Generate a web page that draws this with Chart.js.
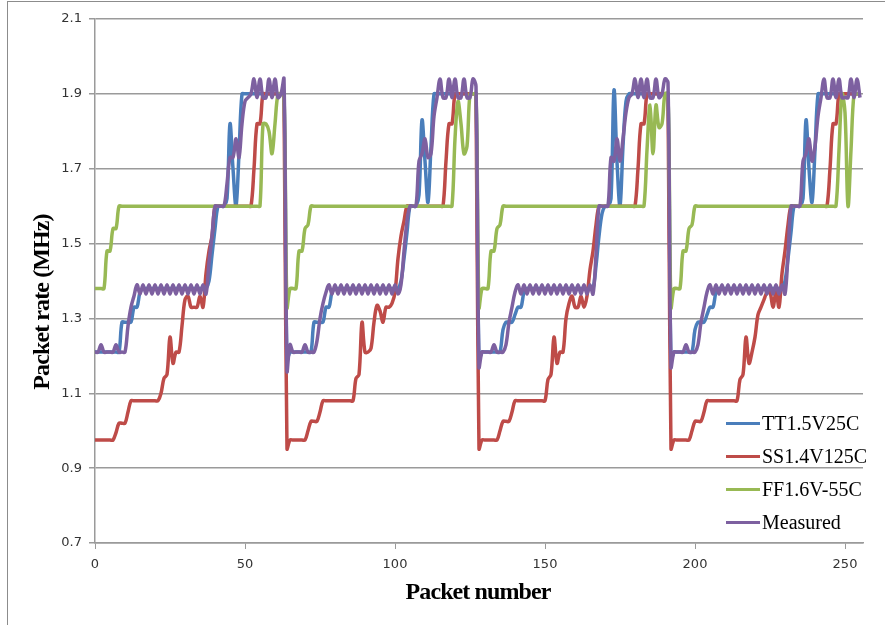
<!DOCTYPE html>
<html>
<head>
<meta charset="utf-8">
<script src="https://cdn.jsdelivr.net/npm/chart.js@4.4.1/dist/chart.umd.min.js"></script>
<style>
  html, body { margin: 0; padding: 0; background: #fff; }
  #wrap { position: relative; width: 885px; height: 625px; overflow: hidden; }
  #chart { position: absolute; left: 0; top: 0; }
  .frame { position: absolute; left: 7px; top: 1px; right: -2px; bottom: -2px;
           border-left: 1px solid #8c8c8c; border-top: 1px solid #8c8c8c; pointer-events: none; }
  .axis-title { position: absolute; font: bold 24px "Liberation Serif", "Times New Roman", serif;
                letter-spacing: -0.9px; color: #000; white-space: nowrap; text-align: center; }
  #xTitle { left: 328px; top: 579px; width: 300px; line-height: 24px; }
  #yTitle { left: -109px; top: 288px; width: 300px; line-height: 28px; transform: rotate(-90deg); }
  .legend-item { position: absolute; left: 726px; height: 24px; line-height: 24px;
                 font: 20px "Liberation Serif", "Times New Roman", serif; color: #000; white-space: nowrap; }
  .legend-item span.swatch { display: inline-block; width: 34px; height: 3px; vertical-align: middle;
                             margin-right: 2px; position: relative; top: -2px; }
</style>
</head>
<body>
<div id="wrap">
  <canvas id="chart" width="885" height="625"></canvas>
  <div class="frame"></div>
  <div id="yTitle" class="axis-title">Packet rate (MHz)</div>
  <div id="xTitle" class="axis-title">Packet number</div>
  <div id="legend"></div>
</div>
<script>
// packet rate (MHz) per packet, 4 periods of 64 packets, one row = 16 packets
const ttValues = [
  1.21,1.21,1.21,1.21,1.21,1.21,1.21,1.21,1.21,1.29,1.29,1.29,1.29,1.33,1.33,1.37,
  1.38,1.38,1.38,1.38,1.38,1.38,1.38,1.38,1.38,1.38,1.38,1.38,1.38,1.38,1.38,1.38,
  1.38,1.38,1.38,1.38,1.38,1.38,1.40,1.47,1.54,1.60,1.60,1.60,1.62,1.82,1.70,1.60,
  1.74,1.90,1.90,1.90,1.90,1.90,1.90,1.90,1.90,1.90,1.90,1.90,1.90,1.90,1.90,1.90,

  1.19,1.21,1.21,1.21,1.21,1.21,1.21,1.21,1.21,1.29,1.29,1.29,1.29,1.33,1.33,1.37,
  1.38,1.38,1.38,1.38,1.38,1.38,1.38,1.38,1.38,1.38,1.38,1.38,1.38,1.38,1.38,1.38,
  1.38,1.38,1.38,1.38,1.38,1.38,1.40,1.46,1.53,1.60,1.60,1.60,1.63,1.83,1.72,1.61,
  1.76,1.90,1.90,1.90,1.90,1.90,1.90,1.90,1.90,1.90,1.90,1.90,1.90,1.90,1.90,1.90,

  1.19,1.21,1.21,1.21,1.21,1.21,1.21,1.21,1.27,1.29,1.29,1.29,1.31,1.33,1.33,1.37,
  1.38,1.38,1.38,1.38,1.38,1.38,1.38,1.38,1.38,1.38,1.38,1.38,1.38,1.38,1.38,1.38,
  1.38,1.38,1.38,1.38,1.38,1.38,1.38,1.44,1.52,1.58,1.60,1.60,1.62,1.91,1.72,1.60,
  1.76,1.88,1.90,1.90,1.90,1.90,1.90,1.90,1.90,1.90,1.90,1.90,1.90,1.90,1.90,1.90,

  1.19,1.21,1.21,1.21,1.21,1.21,1.21,1.21,1.27,1.29,1.29,1.29,1.31,1.33,1.33,1.37,
  1.38,1.38,1.38,1.38,1.38,1.38,1.38,1.38,1.38,1.38,1.38,1.38,1.38,1.38,1.38,1.38,
  1.38,1.38,1.38,1.38,1.38,1.38,1.40,1.46,1.53,1.60,1.60,1.60,1.62,1.83,1.70,1.61,
  1.75,1.90,1.90,1.90,1.90,1.90,1.90,1.90,1.90,1.90,1.90,1.90,1.90,1.90,1.90,1.90
];

const ssValues = [
  0.975,0.975,0.975,0.975,0.975,0.975,0.975,0.995,1.02,1.02,1.02,1.05,1.08,1.08,1.08,1.08,
  1.08,1.08,1.08,1.08,1.08,1.08,1.10,1.14,1.15,1.25,1.18,1.21,1.21,1.28,1.35,1.36,
  1.33,1.33,1.33,1.36,1.33,1.42,1.48,1.52,1.60,1.60,1.60,1.60,1.60,1.60,1.60,1.60,
  1.60,1.60,1.60,1.60,1.60,1.70,1.82,1.82,1.90,1.90,1.90,1.90,1.90,1.90,1.90,1.90,

  0.952,0.975,0.975,0.975,0.975,0.975,0.975,1.00,1.025,1.025,1.025,1.05,1.08,1.08,1.08,1.08,
  1.08,1.08,1.08,1.08,1.08,1.08,1.08,1.14,1.15,1.29,1.21,1.21,1.22,1.29,1.335,1.32,
  1.29,1.33,1.33,1.34,1.37,1.46,1.52,1.56,1.60,1.60,1.60,1.60,1.60,1.60,1.60,1.60,
  1.60,1.60,1.60,1.60,1.60,1.72,1.82,1.82,1.90,1.90,1.90,1.90,1.90,1.90,1.90,1.90,

  0.952,0.975,0.975,0.975,0.975,0.975,0.975,1.00,1.025,1.025,1.025,1.05,1.08,1.08,1.08,1.08,
  1.08,1.08,1.08,1.08,1.08,1.08,1.08,1.137,1.15,1.25,1.18,1.21,1.21,1.30,1.34,1.36,
  1.33,1.33,1.36,1.33,1.36,1.43,1.48,1.55,1.60,1.60,1.60,1.60,1.60,1.60,1.60,1.60,
  1.60,1.60,1.60,1.60,1.60,1.70,1.82,1.82,1.90,1.90,1.90,1.90,1.90,1.90,1.90,1.90,

  0.952,0.975,0.975,0.975,0.975,0.975,0.975,1.00,1.025,1.025,1.025,1.05,1.08,1.08,1.08,1.08,
  1.08,1.08,1.08,1.08,1.08,1.08,1.08,1.137,1.15,1.25,1.18,1.21,1.25,1.31,1.33,1.35,
  1.37,1.37,1.33,1.37,1.33,1.42,1.48,1.55,1.60,1.60,1.60,1.60,1.60,1.60,1.60,1.60,
  1.60,1.60,1.60,1.60,1.60,1.70,1.82,1.82,1.90,1.90,1.90,1.90,1.90,1.90,1.90,1.90
];

const ffValues = [
  1.38,1.38,1.38,1.38,1.48,1.48,1.54,1.54,1.60,1.60,1.60,1.60,1.60,1.60,1.60,1.60,
  1.60,1.60,1.60,1.60,1.60,1.60,1.60,1.60,1.60,1.60,1.60,1.60,1.60,1.60,1.60,1.60,
  1.60,1.60,1.60,1.60,1.60,1.60,1.60,1.60,1.60,1.60,1.60,1.60,1.60,1.60,1.60,1.60,
  1.60,1.60,1.60,1.60,1.60,1.60,1.60,1.60,1.82,1.82,1.80,1.74,1.82,1.90,1.90,1.90,

  1.33,1.38,1.38,1.38,1.48,1.48,1.54,1.55,1.60,1.60,1.60,1.60,1.60,1.60,1.60,1.60,
  1.60,1.60,1.60,1.60,1.60,1.60,1.60,1.60,1.60,1.60,1.60,1.60,1.60,1.60,1.60,1.60,
  1.60,1.60,1.60,1.60,1.60,1.60,1.60,1.60,1.60,1.60,1.60,1.60,1.60,1.60,1.60,1.60,
  1.60,1.60,1.60,1.60,1.60,1.60,1.60,1.60,1.78,1.88,1.82,1.74,1.76,1.90,1.90,1.90,

  1.33,1.38,1.38,1.38,1.48,1.48,1.54,1.55,1.60,1.60,1.60,1.60,1.60,1.60,1.60,1.60,
  1.60,1.60,1.60,1.60,1.60,1.60,1.60,1.60,1.60,1.60,1.60,1.60,1.60,1.60,1.60,1.60,
  1.60,1.60,1.60,1.60,1.60,1.60,1.60,1.60,1.60,1.60,1.60,1.60,1.60,1.60,1.60,1.60,
  1.60,1.60,1.60,1.60,1.60,1.60,1.60,1.60,1.75,1.87,1.74,1.87,1.81,1.82,1.90,1.90,

  1.33,1.38,1.38,1.38,1.48,1.48,1.54,1.55,1.60,1.60,1.60,1.60,1.60,1.60,1.60,1.60,
  1.60,1.60,1.60,1.60,1.60,1.60,1.60,1.60,1.60,1.60,1.60,1.60,1.60,1.60,1.60,1.60,
  1.60,1.60,1.60,1.60,1.60,1.60,1.60,1.60,1.60,1.60,1.60,1.60,1.60,1.60,1.60,1.60,
  1.60,1.60,1.60,1.60,1.60,1.60,1.60,1.60,1.75,1.90,1.85,1.60,1.75,1.90,1.90,1.90
];

const measuredValues = [
  1.21,1.21,1.23,1.21,1.21,1.21,1.21,1.23,1.21,1.21,1.21,1.28,1.33,1.36,1.39,1.365,
  1.39,1.365,1.39,1.365,1.39,1.365,1.39,1.365,1.39,1.365,1.39,1.365,1.39,1.365,1.39,1.365,
  1.39,1.365,1.39,1.365,1.39,1.365,1.45,1.52,1.60,1.60,1.60,1.60,1.66,1.73,1.73,1.78,
  1.73,1.82,1.88,1.89,1.90,1.94,1.89,1.94,1.89,1.89,1.94,1.89,1.94,1.89,1.90,1.94,

  1.16,1.23,1.21,1.21,1.21,1.21,1.23,1.21,1.21,1.21,1.24,1.30,1.34,1.37,1.39,1.365,
  1.39,1.365,1.39,1.365,1.39,1.365,1.39,1.365,1.39,1.365,1.39,1.365,1.39,1.365,1.39,1.365,
  1.39,1.365,1.39,1.365,1.39,1.365,1.39,1.48,1.56,1.60,1.60,1.60,1.72,1.74,1.78,1.73,
  1.74,1.84,1.89,1.94,1.89,1.89,1.94,1.89,1.94,1.89,1.89,1.94,1.89,1.89,1.94,1.92,

  1.17,1.21,1.21,1.21,1.21,1.23,1.21,1.21,1.21,1.23,1.29,1.33,1.37,1.39,1.365,1.39,
  1.365,1.39,1.365,1.39,1.365,1.39,1.365,1.39,1.365,1.39,1.365,1.39,1.365,1.39,1.365,1.39,
  1.365,1.39,1.365,1.39,1.365,1.39,1.365,1.47,1.60,1.60,1.60,1.60,1.73,1.72,1.78,1.72,
  1.78,1.85,1.89,1.90,1.94,1.89,1.94,1.89,1.94,1.89,1.89,1.94,1.89,1.90,1.94,1.93,

  1.17,1.21,1.21,1.21,1.21,1.23,1.21,1.21,1.21,1.23,1.29,1.33,1.37,1.39,1.365,1.39,
  1.365,1.39,1.365,1.39,1.365,1.39,1.365,1.39,1.365,1.39,1.365,1.39,1.365,1.39,1.365,1.39,
  1.365,1.39,1.365,1.39,1.365,1.39,1.365,1.47,1.60,1.60,1.60,1.60,1.72,1.74,1.78,1.72,
  1.76,1.84,1.89,1.94,1.89,1.89,1.94,1.89,1.94,1.89,1.89,1.89,1.94,1.89,1.94,1.89
];

const seriesNames = ["TT1.5V25C", "SS1.4V125C", "FF1.6V-55C", "Measured"];
const seriesColors = ["#4a7ebb", "#be4b48", "#98b954", "#7d60a0"];
const yTicks = [0.7, 0.9, 1.1, 1.3, 1.5, 1.7, 1.9, 2.1];
const xTicks = [0, 50, 100, 150, 200, 250];

const gridColor = "#9a9a9a";
const tickFont = { family: "DejaVu Sans", size: 13 };

function toPoints(values) {
  // x is the packet number, i.e. the index in the list
  return values.map((y, i) => ({ x: i, y }));
}

const allValues = [ttValues, ssValues, ffValues, measuredValues];

const datasets = allValues.map((values, k) => ({
  label: seriesNames[k],
  data: toPoints(values),
  borderColor: seriesColors[k],
  backgroundColor: seriesColors[k],
  borderWidth: 3.5,
  pointRadius: 0,
  tension: 0.35,
  borderJoinStyle: "round",
  fill: false,
  order: 4 - k   // later series drawn on top, like the original
}));

const chart = new Chart(document.getElementById("chart"), {
  type: "line",
  data: { datasets },
  options: {
    responsive: false,
    animation: false,
    layout: { padding: { top: 19, right: 22, left: 0, bottom: 0 } },
    plugins: {
      legend: { display: false },
      tooltip: { enabled: false }
    },
    scales: {
      x: {
        type: "linear",
        min: 0,
        max: 256,
        afterBuildTicks: scale => { scale.ticks = xTicks.map(v => ({ value: v })); },
        afterFit: scale => { scale.height = 82; },
        ticks: { font: tickFont, color: "#333", padding: 8, maxRotation: 0 },
        grid: { drawOnChartArea: false, drawTicks: true, tickLength: 6, color: gridColor, lineWidth: 1 },
        border: { color: gridColor, width: 1.5 }
      },
      y: {
        min: 0.7,
        max: 2.1,
        afterBuildTicks: scale => { scale.ticks = yTicks.map(v => ({ value: v })); },
        afterFit: scale => { scale.width = 95; },
        ticks: { font: tickFont, color: "#333", padding: 7, callback: v => v.toFixed(1) },
        grid: { color: gridColor, lineWidth: 1.5, tickLength: 6 },
        border: { color: gridColor, width: 1.5 }
      }
    }
  }
});

// legend inside the plot, bottom right
const legendTops = [412, 445, 478, 511];
const legendBox = document.getElementById("legend");
chart.data.datasets.forEach((ds, i) => {
  const item = document.createElement("div");
  item.className = "legend-item";
  item.style.top = legendTops[i] + "px";
  item.innerHTML = `<span class="swatch" style="background:${ds.borderColor}"></span>${ds.label}`;
  legendBox.appendChild(item);
});
</script>
</body>
</html>
